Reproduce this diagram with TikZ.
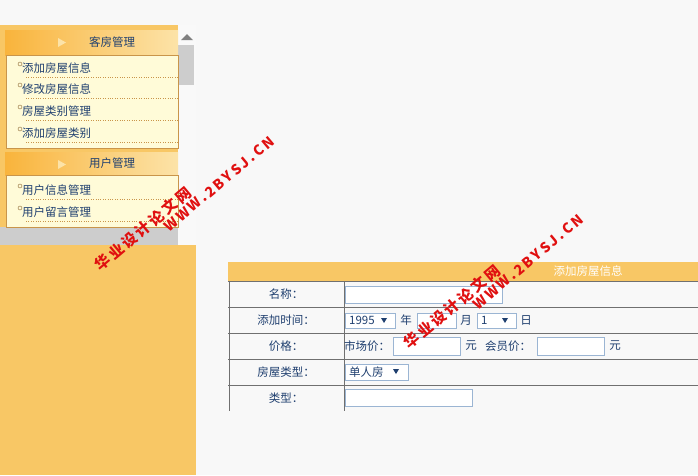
\documentclass[tikz,border=0pt]{standalone}
\usepackage{fontspec}
\setmainfont{Noto Sans CJK SC}
\usepackage{tikz}
\usetikzlibrary{calc,shapes,arrows.meta}
\definecolor{pageBg}{HTML}{F8F8F8}
\definecolor{panelOr}{HTML}{F8C765}
\definecolor{headOr}{HTML}{F9B43C}
\definecolor{headLt}{HTML}{FCE3A8}
\definecolor{itemBg}{HTML}{FFFBD8}
\definecolor{itemBd}{HTML}{C9954A}
\definecolor{barGray}{HTML}{CDCDCD}
\definecolor{txtBlue}{HTML}{1F3F6F}
\definecolor{lineGray}{HTML}{707070}
\definecolor{boxBd}{HTML}{9BB5D3}
\definecolor{wmRed}{HTML}{E01010}
\tikzset{
  menutext/.style={anchor=west,font=\fontsize{11.5}{12}\selectfont,text=txtBlue,inner sep=0pt},
  formtext/.style={font=\fontsize{11.5}{12}\selectfont,text=txtBlue,inner sep=0pt},
  inbox/.style={draw=boxBd,fill=white,line width=0.8pt},
  watermark/.style={font=\bfseries\fontsize{14}{14}\selectfont,text=wmRed,rotate=40,inner sep=0pt},
  wmcjk/.style={watermark,font=\bfseries\fontsize{15}{15}\selectfont}
}
\begin{document}
\begin{tikzpicture}[x=1pt,y=-1pt]
  \useasboundingbox (0,0) rectangle (698,475);
  \fill[pageBg] (0,0) rectangle (698,475);
  %% left panel
  \fill[panelOr] (0,245) rectangle (196,475);
  \fill[panelOr] (0,25) rectangle (178,227);
  \fill[white!95!gray] (178,25) rectangle (196,245);
  \fill[barGray] (178,45) rectangle (194,85);
  \fill[gray] (181,40) -- (187,34) -- (193,40) -- cycle;
  \fill[barGray] (0,227) rectangle (178,245);
  %% menu headers and item boxes
  \foreach \top/\bot/\title/\name in {30/55/客房管理/hdA,152/175/用户管理/hdB}
  {
    \shade[left color=headOr,right color=headLt] (5,\top) rectangle (178,\bot);
    \fill[headLt] (58,\top+8) -- (66,\top+12.5) -- (58,\top+17) -- cycle;
    \node[formtext] (\name) at (112,{(\top+\bot)/2}) {\title};
  }
  \draw[itemBd,fill=itemBg] (6,55) rectangle (178,148);
  \draw[itemBd,fill=itemBg] (6,175) rectangle (178,227);
  \foreach \y/\t [count=\i] in {68/添加房屋信息,89/修改房屋信息,111/房屋类别管理,133/添加房屋类别,190/用户信息管理,212/用户留言管理}
  {
    \draw[itemBd!70!black] (20,\y-4) circle (2pt);
    \node[menutext] (item\i) at (22,\y) {\t};
    \draw[dotted,itemBd] (26,\y+9) -- (178,\y+9);
  }
  %% form
  \fill[panelOr] (228,262) rectangle (698,281);
  \node[formtext,text=white] (formTitle) at (588,271) {添加房屋信息};
  \foreach \y in {281,307,333,359,385}
    \draw[lineGray] (228,\y) -- (698,\y);
  \draw[lineGray] (229,281) -- (229,411);
  \draw[lineGray] (344,281) -- (344,411);
  \foreach \y/\t [count=\i] in {294/名称：,320/添加时间：,346/价格：,372/房屋类型：,398/类型：}
    \node[formtext] (lab\i) at (286,\y) {\t};
  \draw[inbox] (345,286) rectangle (502,303);
  \draw[inbox] (345,313) rectangle (395,328);
  \node[formtext,anchor=west] (year) at (349,320.5) {1995};
  \fill[txtBlue] (381,318) -- (387,318) -- (384,323) -- cycle;
  \node[formtext] (nian) at (406,320) {年};
  \draw[inbox] (417,313) rectangle (456,328);
  \node[formtext] (yue) at (466,320) {月};
  \draw[inbox] (477,313) rectangle (516,328);
  \node[formtext,anchor=west] (day) at (481,320.5) {1};
  \fill[txtBlue] (502,318) -- (508,318) -- (505,323) -- cycle;
  \node[formtext] (ri) at (526,320) {日};
  \node[formtext,anchor=west] (mkt) at (344,346) {市场价：};
  \draw[inbox] (393,337) rectangle (460,355);
  \node[formtext] (yuanA) at (471,346) {元};
  \node[formtext,anchor=west] (mem) at (485,346) {会员价：};
  \draw[inbox] (537,337) rectangle (604,355);
  \node[formtext] (yuanB) at (615,346) {元};
  \draw[inbox] (345,364) rectangle (408,380);
  \node[formtext,anchor=west] (room) at (349,372) {单人房};
  \fill[txtBlue] (393,369) -- (399,369) -- (396,374) -- cycle;
  \draw[inbox] (345,389) rectangle (472,406);
  %% watermarks
  \node[wmcjk] (wmA1) at (143,229) {华\,业\,设\,计\,论\,文\,网};
  \node[watermark] (wmA2) at (219,184) {W\,W\,W\,.\,2\,B\,Y\,S\,J\,.\,C\,N};
  \node[wmcjk] (wmB1) at (452,307) {华\,业\,设\,计\,论\,文\,网};
  \node[watermark] (wmB2) at (528,262) {W\,W\,W\,.\,2\,B\,Y\,S\,J\,.\,C\,N};
\end{tikzpicture}
\end{document}
